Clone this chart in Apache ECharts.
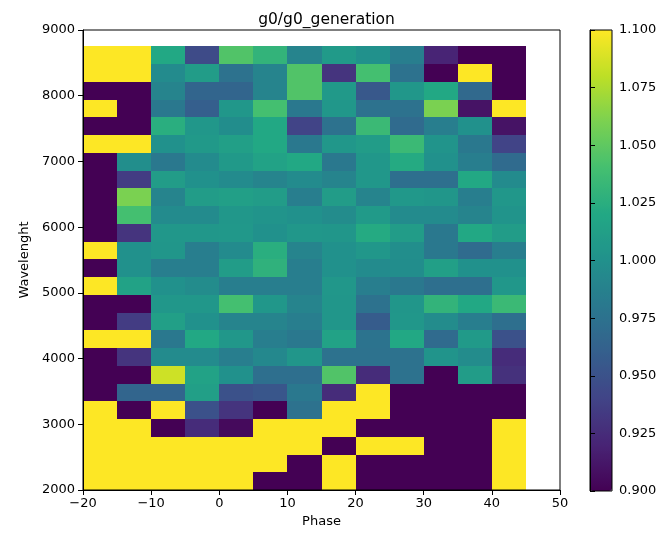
<!DOCTYPE html>
<html><head><meta charset="utf-8">
<script src="https://cdn.jsdelivr.net/npm/echarts@6/dist/echarts.min.js"></script>
<style>html,body{margin:0;padding:0;background:#fff}#c{width:663px;height:533px}</style>
</head><body><div id="c"></div>
<script>
// Bin edges
const phaseEdges = [-20,-15,-10,-5,0,5,10,15,20,25,30,35,40,45];
const wlEdges = [2000,2270,2540,2810,3080,3350,3620,3890,4160,4430,4700,4970,5240,5510,5780,6050,6320,6590,6860,7130,7400,7670,7940,8210,8480,8750];
const Y = 1.1, P = 0.9;
// Rows from top (8480-8750) down to bottom (2000-2270), 13 phase columns each
const rowsTopDown = [
 [Y, Y, 1.02, 0.945, 1.045, 1.03, 0.99, 1.008, 1.0, 0.985, 0.92, P, P],
 [Y, Y, 0.995, 1.01, 0.975, 0.99, 1.045, 0.93, 1.04, 0.975, P, Y, P],
 [P, P, 0.99, 0.965, 0.965, 0.99, 1.045, 1.007, 0.955, 1.005, 1.02, 0.968, P],
 [Y, P, 0.98, 0.96, 1.005, 1.04, 0.98, 1.005, 0.975, 0.975, 1.06, 0.91, Y],
 [P, P, 1.025, 1.005, 0.997, 1.02, 0.94, 0.975, 1.035, 0.97, 0.985, 1.0, 0.91],
 [Y, Y, 1.0, 1.007, 1.012, 1.02, 0.98, 1.005, 1.01, 1.035, 1.003, 0.98, 0.94],
 [P, 0.998, 0.98, 0.995, 1.007, 1.015, 1.02, 0.98, 1.005, 1.022, 1.0, 0.985, 0.97],
 [P, 0.935, 1.01, 1.0, 0.995, 0.99, 0.995, 0.99, 1.005, 0.973, 0.973, 1.02, 0.995],
 [P, 1.06, 0.99, 1.01, 1.012, 1.01, 0.985, 1.01, 0.99, 1.006, 1.004, 0.985, 1.005],
 [P, 1.04, 0.995, 0.995, 1.005, 1.003, 1.0, 0.996, 1.008, 0.995, 0.995, 0.99, 1.003],
 [P, 0.93, 1.005, 1.005, 1.006, 1.0, 1.005, 1.004, 1.022, 1.01, 0.98, 1.02, 1.01],
 [Y, 1.0, 1.004, 0.985, 0.995, 1.025, 0.99, 1.0, 1.005, 0.998, 0.98, 0.97, 0.985],
 [P, 1.0, 0.985, 0.985, 1.01, 1.028, 0.985, 1.0, 0.995, 0.997, 1.012, 1.0, 1.0],
 [Y, 1.015, 1.0, 0.996, 0.985, 0.985, 0.985, 1.005, 0.985, 0.98, 0.973, 0.973, 1.005],
 [P, P, 1.005, 1.005, 1.04, 1.005, 0.99, 1.004, 0.975, 1.004, 1.03, 1.02, 1.035],
 [P, 0.935, 1.012, 1.0, 0.99, 0.99, 0.985, 1.004, 0.958, 1.005, 0.996, 0.985, 0.973],
 [Y, Y, 0.98, 1.02, 1.005, 0.985, 0.98, 1.015, 0.976, 1.02, 0.97, 1.008, 0.95],
 [P, 0.93, 0.995, 0.995, 0.985, 0.993, 1.004, 0.975, 0.975, 0.975, 1.003, 0.996, 0.925],
 [P, P, 1.085, 1.015, 1.0, 0.973, 0.973, 1.045, 0.925, 0.975, P, 1.01, 0.928],
 [P, 0.965, 0.965, 1.012, 0.95, 0.953, 0.98, 0.925, Y, P, P, P, P],
 [Y, P, Y, 0.95, 0.93, P, 0.975, Y, Y, P, P, P, P],
 [Y, Y, P, 0.925, 0.905, Y, Y, Y, P, P, P, P, Y],
 [Y, Y, Y, Y, Y, Y, Y, P, Y, Y, P, P, Y],
 [Y, Y, Y, Y, Y, Y, P, Y, P, P, P, P, Y],
 [Y, Y, Y, Y, Y, P, P, Y, P, P, P, P, Y]
];
const xTicks = [-20,-10,0,10,20,30,40,50];
const yTicks = [2000,3000,4000,5000,6000,7000,8000,9000];
const cbTicks = [0.9,0.925,0.95,0.975,1.0,1.025,1.05,1.075,1.1];
const viridis = ['#440154','#482475','#414487','#355f8d','#2a788e','#21918c','#22a884','#44bf70','#7ad151','#bddf26','#fde725'];

const nRows = wlEdges.length - 1;
const cells = [];
for (let r = 0; r < nRows; r++) {
  const j = nRows - 1 - r; // bin index from bottom
  for (let i = 0; i < phaseEdges.length - 1; i++) {
    cells.push([phaseEdges[i], wlEdges[j], rowsTopDown[r][i], phaseEdges[i+1], wlEdges[j+1]]);
  }
}
const fmtMinus = v => String(v).replace('-', '\u2212');
const font = 'DejaVu Sans';
const chart = echarts.init(document.getElementById('c'), null, {renderer:'canvas'});
chart.setOption({
  animation: false,
  backgroundColor: '#fff',
  textStyle: {fontFamily: font},
  title: {text: 'g0/g0_generation', left: 321.5, textAlign: 'center', top: 7,
    textStyle: {fontFamily: font, fontSize: 15.5, fontWeight: 'normal', color: '#000'}},
  grid: [
    {left: 83, top: 30, width: 477, height: 461, show: true, borderColor: '#000', borderWidth: 1, backgroundColor: 'transparent', z: 10},
    {left: 590, top: 30, width: 22, height: 461, show: true, borderColor: '#000', borderWidth: 1, backgroundColor: 'transparent', z: 10}
  ],
  xAxis: [
    {gridIndex: 0, type: 'value', min: xTicks[0], max: xTicks[xTicks.length-1], interval: 10, z: 10,
      name: 'Phase', nameLocation: 'middle', nameGap: 25, nameTextStyle: {fontFamily: font, fontSize: 13, color: '#000'},
      axisLine: {show: true, onZero: false, lineStyle: {color: '#000', width: 1}},
      axisTick: {show: true, length: 5, inside: false, lineStyle: {color: '#000'}},
      axisLabel: {formatter: fmtMinus, fontSize: 13, color: '#000', margin: 7, fontFamily: font},
      splitLine: {show: false}},
    {gridIndex: 1, type: 'value', min: 0, max: 1, show: false}
  ],
  yAxis: [
    {gridIndex: 0, type: 'value', min: yTicks[0], max: yTicks[yTicks.length-1], interval: 1000, z: 10,
      name: 'Wavelenght', nameLocation: 'middle', nameGap: 45, nameTextStyle: {fontFamily: font, fontSize: 13, color: '#000'},
      axisLine: {show: true, onZero: false, lineStyle: {color: '#000', width: 1}},
      axisTick: {show: true, length: 5, inside: false, lineStyle: {color: '#000'}},
      axisLabel: {formatter: v => String(v), fontSize: 13, color: '#000', margin: 8, fontFamily: font},
      splitLine: {show: false}},
    {gridIndex: 1, type: 'value', min: cbTicks[0], max: cbTicks[cbTicks.length-1], interval: 0.025, position: 'right', z: 10,
      axisLine: {show: true, lineStyle: {color: '#000', width: 1}},
      axisTick: {show: true, length: 5, inside: false, lineStyle: {color: '#000'}},
      axisLabel: {formatter: v => v.toFixed(3), fontSize: 13, color: '#000', margin: 7, fontFamily: font},
      splitLine: {show: false}}
  ],
  visualMap: {
    type: 'continuous', min: cbTicks[0], max: cbTicks[cbTicks.length-1], dimension: 2, seriesIndex: 0,
    left: 590, top: 30, itemWidth: 22, itemHeight: 461, padding: 0, calculable: false, text: null,
    showLabel: false, realtime: false, inRange: {color: viridis}, textStyle: {color: 'transparent'}
  },
  series: [{
    type: 'custom', xAxisIndex: 0, yAxisIndex: 0, data: cells,
    encode: {x: [0, 3], y: [1, 4]},
    renderItem: function (params, api) {
      const p0 = api.coord([api.value(0), api.value(4)]);
      const p1 = api.coord([api.value(3), api.value(1)]);
      const x0 = Math.round(p0[0]), y0 = Math.round(p0[1]);
      const x1 = Math.round(p1[0]), y1 = Math.round(p1[1]);
      return {type: 'rect', shape: {x: x0, y: y0, width: x1 - x0, height: y1 - y0},
        style: {fill: api.visual('color')}};
    }
  }]
});
</script></body></html>
